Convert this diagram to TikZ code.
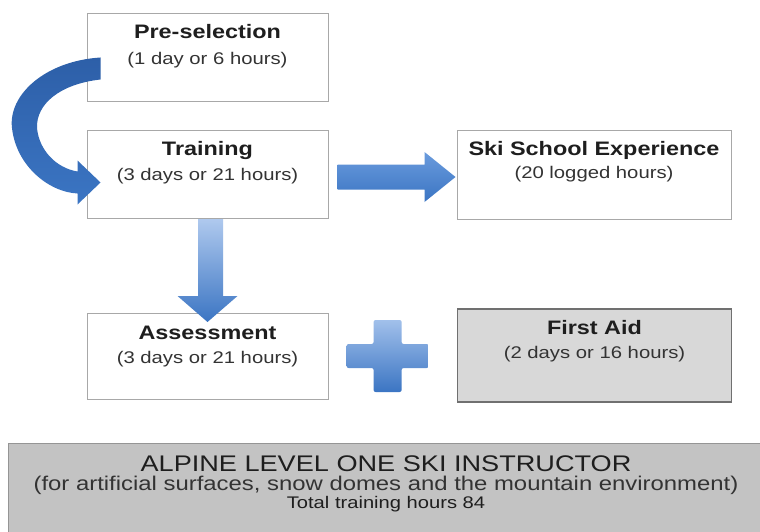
\documentclass[tikz,border=0pt]{standalone}
\usepackage{fontspec}
\setmainfont{Liberation Sans}[FakeStretch=1.2]
\usetikzlibrary{calc}
\definecolor{boxline}{HTML}{A8A8A8}
\definecolor{faline}{HTML}{707070}
\definecolor{fafill}{HTML}{D8D8D8}
\definecolor{bigfill}{HTML}{C3C3C3}
\definecolor{bigline}{HTML}{959595}
\definecolor{txt}{HTML}{1E1E1E}
\definecolor{subtxt}{HTML}{333333}
\definecolor{bluelight}{HTML}{AFC9EE}
\definecolor{bluemid}{HTML}{6A9BDD}
\definecolor{bluedark}{HTML}{3B75C3}
\definecolor{bluedeep}{HTML}{2D5FA8}
\tikzset{
  stagebox/.style={draw=boxline, line width=1pt, fill=white, minimum width=241, minimum height=88, inner sep=0pt},
  fabox/.style={draw=faline, line width=1.6pt, fill=fafill, inner sep=0pt},
  bigbox/.style={draw=bigline, line width=1.1pt, fill=bigfill, inner sep=0pt},
  headtxt/.style={anchor=base, inner sep=0pt, text=txt, font=\fontsize{19.5}{22}\selectfont\bfseries},
  subtxt/.style={anchor=base, inner sep=0pt, text=subtxt, font=\fontsize{16.9}{20}\selectfont},
}
\begin{document}
\begin{tikzpicture}[x=1pt, y=-1pt]
\clip (0,0) rectangle (760,532);
\fill[white] (0,0) rectangle (760,532);

% boxes
\node[stagebox] (pre) at (207.5,57.5) {};
\node[stagebox] (train) at (207.5,174.5) {};
\node[stagebox, minimum width=274] (ski) at (594,175) {};
\node[stagebox, minimum height=86] (assess) at (207.5,356.5) {};
\node[fabox, minimum width=274, minimum height=93] (fa) at (594.5,355.5) {};
\node[bigbox, minimum width=757, minimum height=100, anchor=north west] (alp) at (8,443) {};

% texts
\node[headtxt] (pre-h) at ([yshift=-26]pre.north) {Pre-selection};
\node[subtxt] (pre-s) at ([yshift=-52]pre.north) {(1 day or 6 hours)};
\node[headtxt] (train-h) at ([yshift=-26]train.north) {Training};
\node[subtxt] (train-s) at ([yshift=-50]train.north) {(3 days or 21 hours)};
\node[headtxt] (ski-h) at ([yshift=-25]ski.north) {Ski School Experience};
\node[subtxt] (ski-s) at ([yshift=-48]ski.north) {(20 logged hours)};
\node[headtxt] (assess-h) at ([yshift=-26]assess.north) {Assessment};
\node[subtxt] (assess-s) at ([yshift=-50]assess.north) {(3 days or 21 hours)};
\node[headtxt] (fa-h) at ([yshift=-26]fa.north) {First Aid};
\node[subtxt] (fa-s) at ([yshift=-50]fa.north) {(2 days or 16 hours)};

\node[anchor=base, inner sep=0pt, text=txt, font=\fontsize{22.6}{24}\selectfont] (alp-1) at (386,471) {ALPINE LEVEL ONE SKI INSTRUCTOR};
\node[anchor=base, inner sep=0pt, text=subtxt, font=\fontsize{19.9}{22}\selectfont] (alp-2) at (386,490) {(for artificial surfaces, snow domes and the mountain environment)};
\node[anchor=base, inner sep=0pt, text=txt, font=\fontsize{16.8}{18}\selectfont] (alp-3) at (386,508) {Total training hours 84};

% curved arrow from Pre-selection to Training
\coordinate (ca) at ([shift={(14,11.5)}]pre.west);
\coordinate (cb) at ([shift={(14,8)}]train.west);
\shade[top color=bluedeep, bottom color=bluedark, draw=none]
  ([yshift=11.5]ca) .. controls (45,61) and (8,95) .. (12,128)
  .. controls (16,165) and (48,192) .. ([shift={(-23,11)}]cb)
  -- ([shift={(-23,22)}]cb) -- (cb) -- ([shift={(-23,-22)}]cb)
  -- ([shift={(-23,-11)}]cb)
  .. controls (56,168) and (39,150) .. (37,128)
  .. controls (36,104) and (60,84) .. ([yshift=-10.5]ca) -- cycle;

% right arrow Training -> Ski School Experience
\coordinate (ra) at ([shift={(9,2.5)}]train.east);
\coordinate (rb) at ([shift={(-1,2)}]ski.west);
\shade[top color=bluemid, bottom color=bluedark, draw=none]
  ([yshift=12.5]ra) -- ([shift={(-31,-12.5)}]rb) -- ([shift={(-31,-25)}]rb)
  -- (rb) -- ([shift={(-31,25)}]rb) -- ([shift={(-31,12.5)}]rb)
  -- ([yshift=-12.5]ra) -- cycle;

% down arrow Training -> Assessment
\coordinate (da) at (train.south);
\coordinate (db) at ([yshift=-9]assess.north);
\shade[top color=bluelight, bottom color=bluedark, draw=none]
  ([xshift=-9.5]da) -- ([shift={(-9.5,-26)}]db) -- ([shift={(-30,-26)}]db)
  -- (db) -- ([shift={(30,-26)}]db) -- ([shift={(15.5,-26)}]db)
  -- ([xshift=15.5]da) -- cycle;

% plus sign between Assessment and First Aid
\coordinate (pc) at ($(assess.east)!0.5!(fa.west)+(-5,0)$);
\shade[top color=bluelight!80!bluemid, bottom color=bluedark, draw=none, rounded corners=2pt]
  ([shift={(-14,-36)}]pc) -- ([shift={(14,-36)}]pc) -- ([shift={(14,-12)}]pc)
  -- ([shift={(41,-12)}]pc) -- ([shift={(41,12)}]pc) -- ([shift={(14,12)}]pc)
  -- ([shift={(14,36)}]pc) -- ([shift={(-14,36)}]pc) -- ([shift={(-14,12)}]pc)
  -- ([shift={(-41,12)}]pc) -- ([shift={(-41,-12)}]pc) -- ([shift={(-14,-12)}]pc) -- cycle;
\end{tikzpicture}
\end{document}
